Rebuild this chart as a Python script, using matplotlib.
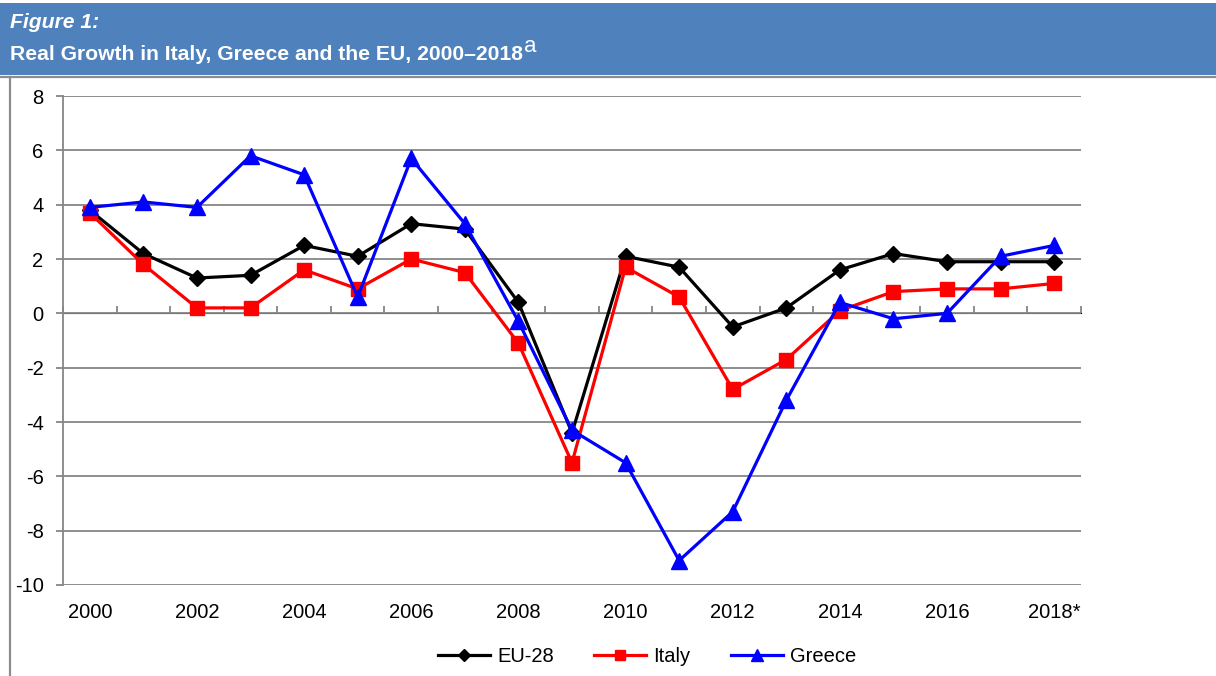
import matplotlib
matplotlib.use("Agg")
import matplotlib.pyplot as plt
from matplotlib.patches import Rectangle
from matplotlib.lines import Line2D
import numpy as np

years = ["2000", "2001", "2002", "2003", "2004", "2005", "2006", "2007", "2008", "2009",
         "2010", "2011", "2012", "2013", "2014", "2015", "2016", "2017", "2018*"]
eu28 = [3.8, 2.2, 1.3, 1.4, 2.5, 2.1, 3.3, 3.1, 0.4, -4.4,
        2.1, 1.7, -0.5, 0.2, 1.6, 2.2, 1.9, 1.9, 1.9]
italy = [3.7, 1.8, 0.2, 0.2, 1.6, 0.9, 2.0, 1.5, -1.1, -5.5,
         1.7, 0.6, -2.8, -1.7, 0.1, 0.8, 0.9, 0.9, 1.1]
greece = [3.9, 4.1, 3.9, 5.8, 5.1, 0.6, 5.7, 3.3, -0.3, -4.3,
          -5.5, -9.1, -7.3, -3.2, 0.4, -0.2, 0.0, 2.1, 2.5]
yticks = [-10, -8, -6, -4, -2, 0, 2, 4, 6, 8]
title_top = "Figure 1:"
title_main = "Real Growth in Italy, Greece and the EU, 2000\u20132018"

plt.rcParams['font.family'] = ['Liberation Sans', 'DejaVu Sans']

W, H = 1216, 676
fig = plt.figure(figsize=(W / 100, H / 100), dpi=100)
fig.patch.set_facecolor('white')

# header band
fig.patches.append(Rectangle((0, 1 - 75 / H), 1, 72 / H, transform=fig.transFigure,
                             facecolor='#4F81BD', edgecolor='none', zorder=0))
fig.lines.append(Line2D([0, 1], [1 - 77 / H, 1 - 77 / H], transform=fig.transFigure,
                        color='#8C8C8C', lw=1.6))
fig.lines.append(Line2D([10 / W, 10 / W], [0, 1 - 77 / H], transform=fig.transFigure,
                        color='#8C8C8C', lw=1.6))

fig.text(10 / W, 1 - 22 / H, title_top, color='white', fontsize=15.2,
         fontweight='bold', fontstyle='italic', va='center', ha='left')
t = fig.text(10 / W, 1 - 54 / H, title_main, color='white', fontsize=15.2,
             fontweight='bold', va='center', ha='left')
fig.canvas.draw()
bb = t.get_window_extent()
fig.text(bb.x1 / W + 1 / W, 1 - 47 / H, "a", color='white', fontsize=16,
         va='center', ha='left')

ax = fig.add_axes([63 / W, 1 - 585 / H, (1081 - 63) / W, (585 - 96) / H])
x = np.arange(len(years))
grid_c = '#868686'

ax.set_xlim(-0.5, len(years) - 0.5)
ax.set_ylim(-10, 8)
ax.set_yticks(yticks)
ax.set_yticklabels([str(v) for v in yticks])
ax.yaxis.grid(True, color=grid_c, lw=1.3)
ax.set_axisbelow(True)
for s in ['top', 'right', 'bottom']:
    ax.spines[s].set_visible(False)
ax.spines['left'].set_color(grid_c)
ax.spines['left'].set_linewidth(1.3)
ax.tick_params(axis='y', direction='out', length=5, width=1.3, color=grid_c,
               labelsize=14.5, pad=9, labelcolor='black')

ax.set_xticks(x[::2])
ax.set_xticklabels(years[::2])
ax.tick_params(axis='x', length=0, labelsize=14.5, pad=13)

# category boundary ticks on the zero line
sec = ax.secondary_xaxis(location=(0 - (-10)) / 18)
sec.set_xticks(np.arange(len(years) + 1) - 0.5)
sec.set_xticklabels([])
sec.tick_params(axis='x', direction='out', length=5, width=1.3, color=grid_c)
sec.spines['bottom'].set_color(grid_c)
sec.spines['bottom'].set_linewidth(1.3)

lw = 2.3
ax.plot(x, eu28, color='black', lw=lw, marker='D', ms=8.5, label='EU-28', zorder=3)
ax.plot(x, italy, color='#FF0000', lw=lw, marker='s', ms=10, label='Italy', zorder=4)
ax.plot(x, greece, color='#0000FF', lw=lw, marker='^', ms=11, label='Greece', zorder=5)

h, l = ax.get_legend_handles_labels()
fig.legend(h, l, loc='center', bbox_to_anchor=(647 / W, 1 - 657 / H), ncol=3,
           frameon=False, fontsize=14.5, handlelength=2.6, handletextpad=0.35,
           columnspacing=2.0, markerscale=0.75)

fig.savefig('out.png', dpi=100)
